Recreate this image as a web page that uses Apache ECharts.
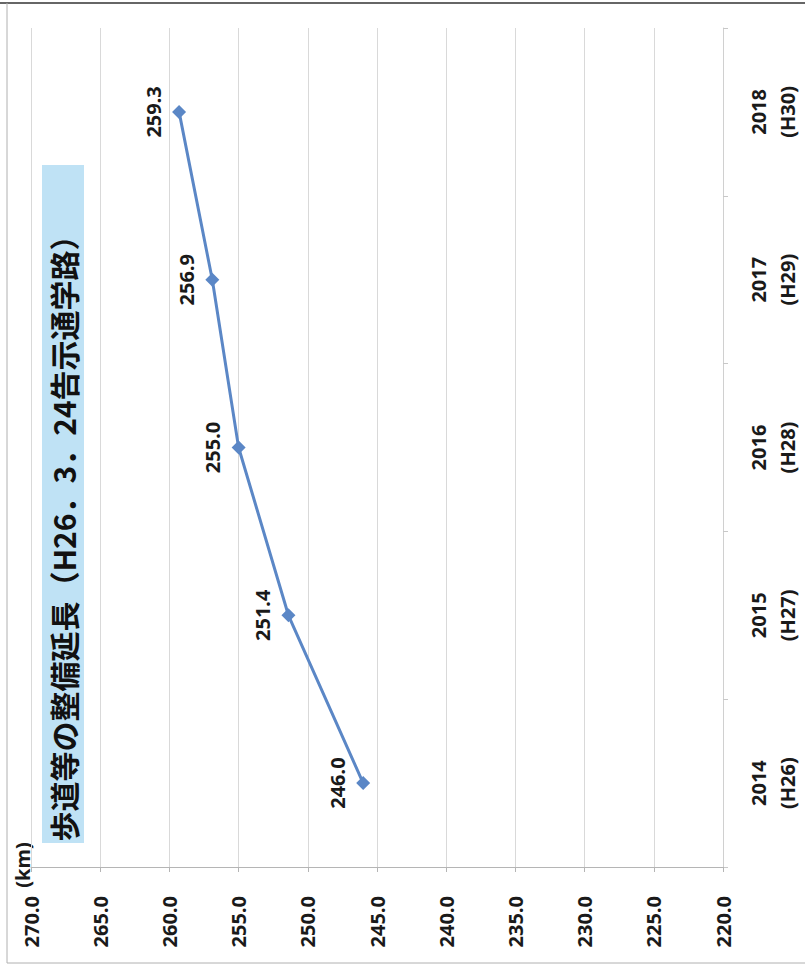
<!DOCTYPE html>
<html>
<head>
<meta charset="utf-8">
<script src="https://cdn.jsdelivr.net/npm/echarts@6/dist/echarts.min.js"></script>
<style>
  html, body { margin: 0; padding: 0; background: #fff; }
  #chart { width: 805px; height: 966px; }
</style>
</head>
<body>
<div id="chart"></div>
<script>
// Categories (years) and values
const categories = ['2014\n(H26)', '2015\n(H27)', '2016\n(H28)', '2017\n(H29)', '2018\n(H30)'];
const lengthKm = [246.0, 251.4, 255.0, 256.9, 259.3];
const titleText = '歩道等の整備延長（H26．3．24告示通学路）';
const unitText = '(km)';

const labelFont = '"Liberation Sans Narrow", "Noto Sans", sans-serif';

let myChart = echarts.init(document.getElementById('chart'), null, {renderer: 'svg'});

// the picture is a chart turned a quarter turn, so the value axis runs along the bottom
let option = {
    backgroundColor: '#fff',
    animation: false,
    grid: {left: 31, right: 82, top: 28, bottom: 99, containLabel: false},
    xAxis: {
        type: 'value',
        inverse: true,
        min: 220,
        max: 270,
        interval: 5,
        axisLine: {show: true, lineStyle: {color: '#b5b5b5', width: 1}},
        axisTick: {show: true, length: 5, lineStyle: {color: '#b5b5b5'}},
        splitLine: {show: true, lineStyle: {color: '#d9d9d9', width: 1}},
        axisLabel: {
            rotate: 90,
            margin: 29,
            color: '#1a1a1a',
            fontSize: 20,
            fontWeight: 'bold',
            fontFamily: labelFont,
            formatter: v => v.toFixed(1)
        }
    },
    yAxis: {
        type: 'category',
        position: 'right',
        data: categories,
        boundaryGap: true,
        axisLine: {show: true, lineStyle: {color: '#d0d0d0', width: 1}},
        axisTick: {show: true, length: 5, lineStyle: {color: '#c8c8c8'}},
        splitLine: {show: false},
        axisLabel: {
            rotate: 90,
            margin: 21,
            color: '#1a1a1a',
            fontSize: 20,
            lineHeight: 29,
            fontWeight: 'bold',
            fontFamily: labelFont
        }
    },
    series: [{
        type: 'line',
        data: lengthKm.map((v, i) => [v, categories[i]]),
        symbol: 'diamond',
        symbolSize: 14,
        itemStyle: {color: '#5b87c6'},
        lineStyle: {color: '#5b87c6', width: 3},
        label: {
            show: true,
            position: 'left',
            distance: 19,
            rotate: 90,
            align: 'center',
            verticalAlign: 'middle',
            color: '#1a1a1a',
            fontSize: 20,
            fontWeight: 'bold',
            fontFamily: labelFont,
            formatter: p => p.value[0].toFixed(1)
        }
    }],
    graphic: [
        // scan frame
        {type: 'line', shape: {x1: 0, y1: 3, x2: 805, y2: 3}, style: {stroke: '#666', lineWidth: 2}},
        {type: 'line', shape: {x1: 7, y1: 3, x2: 7, y2: 963}, style: {stroke: '#b0b0b0', lineWidth: 1}},
        {type: 'line', shape: {x1: 7, y1: 963, x2: 805, y2: 963}, style: {stroke: '#b0b0b0', lineWidth: 1}},
        // title box
        {type: 'rect', shape: {x: 42, y: 165, width: 42, height: 678}, style: {fill: '#bfe2f5'}},
        {
            type: 'text', x: 63, y: 531, rotation: Math.PI / 2,
            style: {
                text: titleText,
                fill: '#111',
                font: 'bold 30px "Noto Sans CJK JP", sans-serif',
                align: 'center', verticalAlign: 'middle',
                textAlign: 'center', textVerticalAlign: 'middle'
            }
        },
        {
            type: 'text', x: 22, y: 865, rotation: Math.PI / 2,
            style: {
                text: unitText,
                fill: '#1a1a1a',
                font: 'bold 20px ' + labelFont,
                align: 'center', verticalAlign: 'middle',
                textAlign: 'center', textVerticalAlign: 'middle'
            }
        }
    ]
};

myChart.setOption(option);
</script>
</body>
</html>
